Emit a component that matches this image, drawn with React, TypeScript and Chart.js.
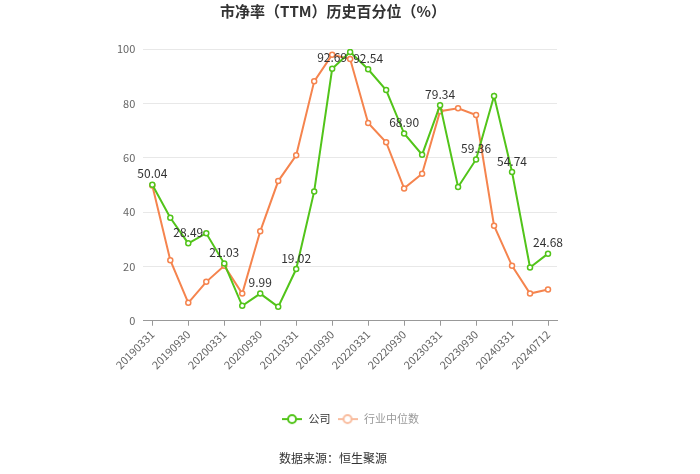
import React, { useEffect, useRef } from "react";
import { Chart, registerables } from "chart.js";
Chart.register(...registerables);

const categories = [
  "20190331", "20190630", "20190930", "20191231", "20200331", "20200630",
  "20200930", "20201231", "20210331", "20210630", "20210930", "20211231",
  "20220331", "20220630", "20220930", "20221231", "20230331", "20230630",
  "20230930", "20231231", "20240331", "20240630", "20240712",
];
const companyValues = [
  50.04, 37.9, 28.49, 32.2, 21.03, 5.5, 9.99, 5.1, 19.02, 47.6, 92.69, 98.9,
  92.54, 84.9, 68.9, 61.1, 79.34, 49.2, 59.36, 82.7, 54.74, 19.6, 24.68,
];
const industryValues = [
  49.8, 22.3, 6.6, 14.3, 20.2, 10.0, 32.9, 51.4, 60.9, 88.1, 97.9, 96.3,
  72.8, 65.7, 48.7, 54.1, 77.1, 78.2, 75.7, 35.0, 20.2, 10.0, 11.5,
];
const labeledIndices = [0, 2, 4, 6, 8, 10, 12, 14, 16, 18, 20, 22];
const seriesNames = ["公司", "行业中位数"];
const titleText = "市净率（TTM）历史百分位（%）";
const sourceText = "数据来源：恒生聚源";

const GREEN = "#52c41a";
const ORANGE = "#f5844e";
const FONT = "'Noto Sans CJK SC', 'Noto Sans', sans-serif";

function makeMarker(color: string) {
  const c = document.createElement("canvas");
  c.width = 20;
  c.height = 12;
  const ctx = c.getContext("2d")!;
  ctx.strokeStyle = color;
  ctx.lineWidth = 2;
  ctx.beginPath();
  ctx.moveTo(0, 6);
  ctx.lineTo(20, 6);
  ctx.stroke();
  ctx.beginPath();
  ctx.arc(10, 6, 4, 0, Math.PI * 2);
  ctx.fillStyle = "#fff";
  ctx.fill();
  ctx.stroke();
  return c;
}

const labelPlugin = {
  id: "valueLabels",
  afterLayout(chart: any) {
    // centre the legend on the canvas rather than on the padded layout box
    const lg = chart.legend;
    if (lg) {
      const shift = chart.width / 2 - (lg.left + lg.right) / 2;
      lg.left += shift;
      lg.right += shift;
    }
  },
  afterDatasetsDraw(chart: any) {
    const meta = chart.getDatasetMeta(0);
    const ctx = chart.ctx;
    ctx.save();
    ctx.font = `12px ${FONT}`;
    ctx.fillStyle = "#333";
    ctx.textAlign = "center";
    ctx.textBaseline = "bottom";
    labeledIndices.forEach((i) => {
      const p = meta.data[i];
      if (!p) return;
      ctx.fillText(companyValues[i].toFixed(2), p.x, p.y - 5);
    });
    ctx.restore();
  },
};

export default function App() {
  const ref = useRef<HTMLCanvasElement>(null);
  useEffect(() => {
    document.body.style.margin = "0";
    const greenMarker = makeMarker(GREEN);
    const orangeMarker = makeMarker("#f9bd9f");
    const chart = new Chart(ref.current!, {
      type: "line",
      data: {
        labels: categories,
        datasets: [
          {
            label: seriesNames[0],
            data: companyValues,
            borderColor: GREEN,
            backgroundColor: "#fff",
            borderWidth: 2,
            pointRadius: 2.5,
            pointBorderWidth: 1.5,
            pointBorderColor: GREEN,
            pointBackgroundColor: "#fff",
            tension: 0,
          },
          {
            label: seriesNames[1],
            data: industryValues,
            borderColor: ORANGE,
            backgroundColor: "#fff",
            borderWidth: 2,
            pointRadius: 2.5,
            pointBorderWidth: 1.5,
            pointBorderColor: ORANGE,
            pointBackgroundColor: "#fff",
            tension: 0,
          },
        ],
      },
      plugins: [labelPlugin],
      options: {
        responsive: false,
        animation: false,
        layout: { padding: { left: 109, right: 143, top: 0, bottom: 8 } },
        plugins: {
          title: {
            display: true,
            text: titleText,
            color: "#333",
            font: { family: FONT, size: 15, weight: "bold" },
            padding: { top: 2, bottom: 29 },
          },
          subtitle: {
            display: true,
            text: sourceText,
            position: "bottom",
            color: "#333",
            font: { family: FONT, size: 12 },
            padding: { top: 17, bottom: 0 },
          },
          legend: {
            position: "bottom",
            labels: {
              usePointStyle: true,
              pointStyleWidth: 22,
              boxHeight: 12,
              padding: 6,
              font: { family: FONT, size: 11 },
              generateLabels: () => [
                { text: seriesNames[0], pointStyle: greenMarker, fontColor: "#333", datasetIndex: 0, hidden: false, lineWidth: 0, strokeStyle: "transparent", fillStyle: "transparent" } as any,
                { text: seriesNames[1], pointStyle: orangeMarker, fontColor: "#999", datasetIndex: 1, hidden: false, lineWidth: 0, strokeStyle: "transparent", fillStyle: "transparent" } as any,
              ],
            },
          },
          tooltip: { enabled: false },
        },
        scales: {
          x: {
            offset: true,
            grid: { display: true, drawOnChartArea: false, drawTicks: true, tickLength: 5, offset: false, color: "#999" },
            border: { display: true, color: "#999" },
            afterBuildTicks: (scale: any) => {
              scale.ticks = scale.ticks.filter((t: any) => t.value % 2 === 0);
            },
            afterFit: (scale: any) => {
              scale.height += 34;
            },
            ticks: {
              autoSkip: false,
              maxRotation: 45,
              minRotation: 45,
              color: "#666",
              font: { family: FONT, size: 11 },
              padding: 2,
            },
          },
          y: {
            min: 0,
            max: 100,
            ticks: { stepSize: 20, color: "#666", font: { family: FONT, size: 11 }, padding: 8 },
            grid: { color: "#e8e8e8", drawTicks: false },
            border: { display: false },
          },
        },
      },
    });
    return () => chart.destroy();
  }, []);
  return <canvas ref={ref} width={700} height={474} style={{ display: "block" }} />;
}
